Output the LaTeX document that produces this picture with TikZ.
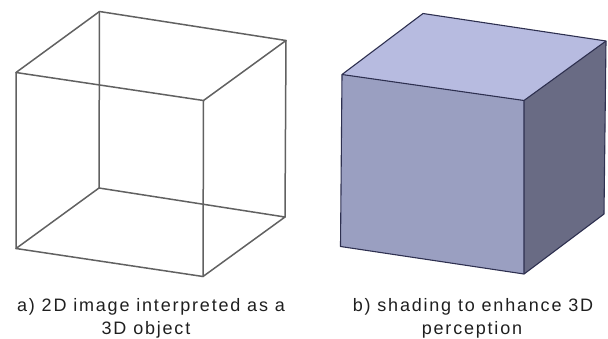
\documentclass[tikz,border=0pt]{standalone}
\usepackage{fontspec}
\setmainfont[LetterSpace=10]{Liberation Sans}
\tikzset{
  wire/.style={draw=black!62,line width=1.5pt,line join=round,line cap=round},
  capt/.style={inner sep=0pt,anchor=base,font=\fontsize{18}{20}\selectfont,text=black!88}
}
\definecolor{topface}{HTML}{B7BBE0}
\definecolor{frontface}{HTML}{9A9FC1}
\definecolor{sideface}{HTML}{696B84}
\definecolor{edgecol}{HTML}{2E3050}
\begin{document}
\begin{tikzpicture}[x=1pt,y=-1pt]
\useasboundingbox (0,0) rectangle (608,338);
% left cube
\coordinate (tb) at (99.5,11.5);
\coordinate (tr) at (286,40.5);
\coordinate (tf) at (203.5,100.5);
\coordinate (tl) at (16,72.5);
\coordinate (bb) at (99,188);
\coordinate (br) at (285,217);
\coordinate (bf) at (203,276.5);
\coordinate (bl) at (16,248.5);
\draw[wire] (tb)--(tr)--(tf)--(tl)--cycle;
\draw[wire] (bb)--(br)--(bf)--(bl)--cycle;
\draw[wire] (tb)--(bb) (tr)--(br) (tf)--(bf) (tl)--(bl);
% right cube
\coordinate (stb) at (423,13.5);
\coordinate (str) at (606,41);
\coordinate (stf) at (524,100.5);
\coordinate (stl) at (342,74.5);
\coordinate (sbr) at (604,214);
\coordinate (sbf) at (524,274);
\coordinate (sbl) at (340.5,246.5);
\fill[topface] (stb)--(str)--(stf)--(stl)--cycle;
\fill[frontface] (stl)--(stf)--(sbf)--(sbl)--cycle;
\fill[sideface] (str)--(sbr)--(sbf)--(stf)--cycle;
\draw[edgecol,line width=1.1pt,line join=round] (stb)--(str)--(sbr)--(sbf)--(sbl)--(stl)--cycle;
\draw[edgecol,line width=1.1pt,line join=round] (stl)--(stf)--(str) (stf)--(sbf);
% captions
\node[capt] (c1) at (151,311.5) {a) 2D image interpreted as a};
\node[capt] (c2) at (146,334) {3D object};
\node[capt] (c3) at (473,311.5) {b) shading to enhance 3D};
\node[capt] (c4) at (472,334) {perception};
\end{tikzpicture}
\end{document}
